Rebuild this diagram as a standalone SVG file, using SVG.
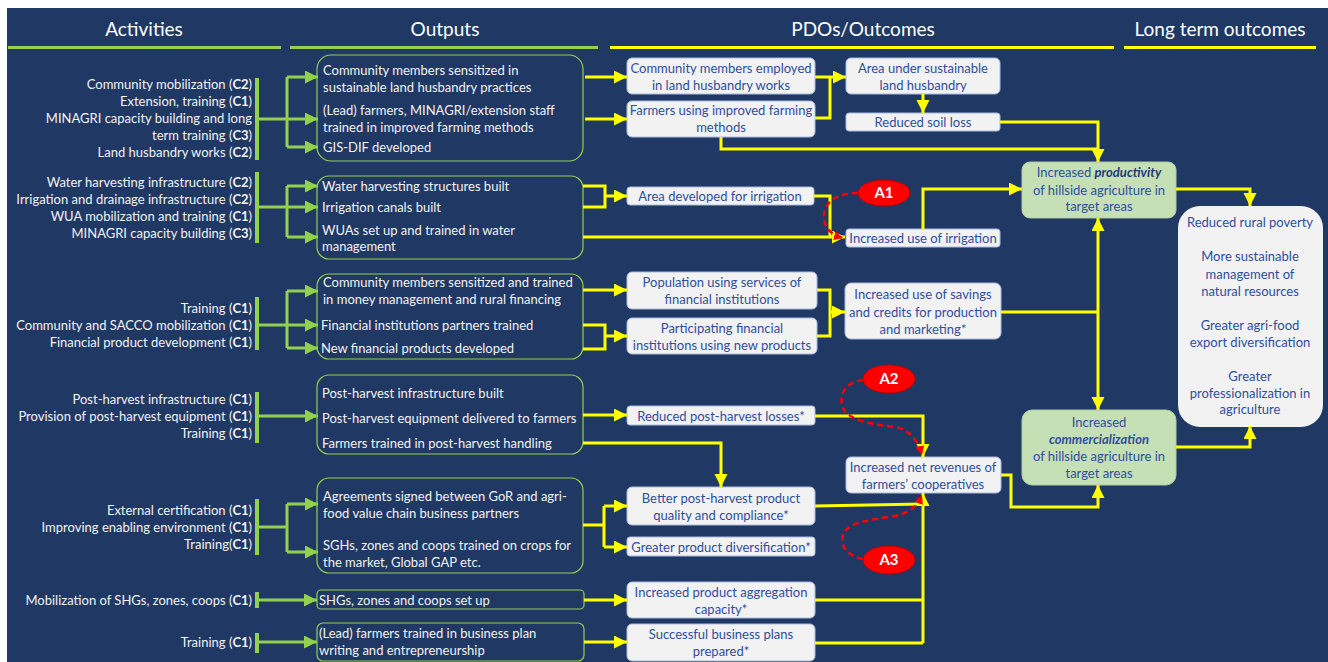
<svg xmlns="http://www.w3.org/2000/svg" width="1328" height="662" viewBox="0 0 1328 662">
<defs>
<style>
.hdr{font-family:Lato,"Open Sans",sans-serif;font-size:19px;fill:#FFFFFF;text-anchor:middle}
.act{font-family:Lato,"Open Sans",sans-serif;font-size:13px;fill:#F2F2F2;text-anchor:end}
.out{font-family:Lato,"Open Sans",sans-serif;font-size:13px;fill:#F2F2F2}
.pdo{font-family:Lato,"Open Sans",sans-serif;font-size:13px;fill:#2E4E9E;text-anchor:middle}
.b{font-weight:bold}
.obox{fill:#203864;stroke:#92D050;stroke-width:1.2}
.pbox{fill:#F2F2F2;stroke:#A9BCE0;stroke-width:1}
.gbox{fill:#C5E0B4;stroke:#AFCB9E;stroke-width:1}
.bar{fill:#92D050}
.gl{fill:none;stroke:#92D050;stroke-width:3}
.ga{fill:none;stroke:#92D050;stroke-width:3;marker-end:url(#mg)}
.yl{fill:none;stroke:#FFFF00;stroke-width:3}
.ya{fill:none;stroke:#FFFF00;stroke-width:3;marker-end:url(#my)}
.rd{fill:none;stroke:#FF0000;stroke-width:2.5;stroke-dasharray:6 4;marker-end:url(#mr)}
.ell{fill:#FF0000;stroke:#C00000;stroke-width:1}
.et{font-family:Lato,"Open Sans",sans-serif;font-size:15px;font-weight:bold;fill:#FFFFFF;text-anchor:middle}
</style>
<marker id="mg" markerUnits="userSpaceOnUse" markerWidth="14" markerHeight="14" refX="13" refY="6.5" orient="auto"><path d="M0,0 L13,6.5 L0,13 z" fill="#92D050"/></marker>
<marker id="my" markerUnits="userSpaceOnUse" markerWidth="14" markerHeight="14" refX="13" refY="6.5" orient="auto"><path d="M0,0 L13,6.5 L0,13 z" fill="#FFFF00"/></marker>
<marker id="mr" markerUnits="userSpaceOnUse" markerWidth="10" markerHeight="10" refX="9" refY="4.5" orient="auto"><path d="M0,0 L9,4.5 L0,9 z" fill="#FF0000"/></marker>
</defs>
<rect x="7" y="8" width="1321" height="654" fill="#203864"/>
<g id="header">
<text class="hdr" x="144" y="36">Activities</text>
<text class="hdr" x="445" y="36">Outputs</text>
<text class="hdr" x="863" y="36">PDOs/Outcomes</text>
<text class="hdr" x="1220" y="36">Long term outcomes</text>
<rect x="8" y="46" width="273" height="3" fill="#92D050"/>
<rect x="290" y="46" width="308" height="3" fill="#92D050"/>
<rect x="610" y="46" width="504" height="3" fill="#FFFF00"/>
<rect x="1124" y="46" width="192" height="3" fill="#FFFF00"/>
</g>
<g id="activities">
<text class="act" x="252" y="89">Community mobilization (<tspan class="b">C2</tspan>)</text>
<text class="act" x="252" y="106">Extension, training (<tspan class="b">C1</tspan>)</text>
<text class="act" x="252" y="123">MINAGRI capacity building and long</text>
<text class="act" x="252" y="140">term training (<tspan class="b">C3</tspan>)</text>
<text class="act" x="252" y="157">Land husbandry works (<tspan class="b">C2</tspan>)</text>
<text class="act" x="252" y="187">Water harvesting infrastructure (<tspan class="b">C2</tspan>)</text>
<text class="act" x="252" y="204">Irrigation and drainage infrastructure (<tspan class="b">C2</tspan>)</text>
<text class="act" x="252" y="221">WUA mobilization and training (<tspan class="b">C1</tspan>)</text>
<text class="act" x="252" y="238">MINAGRI capacity building (<tspan class="b">C3</tspan>)</text>
<text class="act" x="252" y="313">Training (<tspan class="b">C1</tspan>)</text>
<text class="act" x="252" y="330">Community and SACCO mobilization (<tspan class="b">C1</tspan>)</text>
<text class="act" x="252" y="347">Financial product development (<tspan class="b">C1</tspan>)</text>
<text class="act" x="252" y="404">Post-harvest infrastructure (<tspan class="b">C1</tspan>)</text>
<text class="act" x="252" y="421">Provision of post-harvest equipment (<tspan class="b">C1</tspan>)</text>
<text class="act" x="252" y="438">Training (<tspan class="b">C1</tspan>)</text>
<text class="act" x="252" y="515">External certification (<tspan class="b">C1</tspan>)</text>
<text class="act" x="252" y="532">Improving enabling environment (<tspan class="b">C1</tspan>)</text>
<text class="act" x="252" y="549">Training(<tspan class="b">C1</tspan>)</text>
<text class="act" x="252" y="605">Mobilization of SHGs, zones, coops (<tspan class="b">C1</tspan>)</text>
<text class="act" x="252" y="647">Training (<tspan class="b">C1</tspan>)</text>
<rect class="bar" x="255" y="78" width="4" height="82"/>
<rect class="bar" x="255" y="172" width="4" height="71"/>
<rect class="bar" x="255" y="297" width="4" height="53"/>
<rect class="bar" x="255" y="392" width="4" height="51"/>
<rect class="bar" x="255" y="499" width="4" height="56"/>
<rect class="bar" x="255" y="592" width="4" height="16"/>
<rect class="bar" x="255" y="633" width="4" height="20"/>
</g>
<g id="out1">
<rect class="obox" x="317" y="55" width="266" height="106" rx="14"/>
<text class="out" x="323" y="75">Community members sensitized in</text>
<text class="out" x="323" y="92">sustainable land husbandry practices</text>
<text class="out" x="323" y="115">(Lead) farmers, MINAGRI/extension staff</text>
<text class="out" x="323" y="132">trained in improved farming methods</text>
<text class="out" x="323" y="152">GIS-DIF developed</text>
</g>
<g id="out2">
<rect class="obox" x="317" y="176" width="266" height="83" rx="12"/>
<text class="out" x="322" y="191">Water harvesting structures built</text>
<text class="out" x="322" y="212">Irrigation canals built</text>
<text class="out" x="322" y="235">WUAs set up and trained in water</text>
<text class="out" x="322" y="251">management</text>
</g>
<g id="out3">
<rect class="obox" x="317" y="274" width="266" height="85" rx="12"/>
<text class="out" x="323" y="287">Community members sensitized and trained</text>
<text class="out" x="323" y="304">in money management and rural financing</text>
<text class="out" x="321" y="330">Financial institutions partners trained</text>
<text class="out" x="321" y="353">New financial products developed</text>
</g>
<g id="out4">
<rect class="obox" x="317" y="375" width="266" height="79" rx="12"/>
<text class="out" x="322" y="398">Post-harvest infrastructure built</text>
<text class="out" x="322" y="423">Post-harvest equipment delivered to farmers</text>
<text class="out" x="322" y="448">Farmers trained in post-harvest handling</text>
</g>
<g id="out5">
<rect class="obox" x="317" y="478" width="266" height="95" rx="12"/>
<text class="out" x="323" y="501">Agreements signed between GoR and agri-</text>
<text class="out" x="323" y="518">food value chain business partners</text>
<text class="out" x="323" y="550">SGHs, zones and coops trained on crops for</text>
<text class="out" x="323" y="567">the market, Global GAP etc.</text>
</g>
<g id="out6">
<rect class="obox" x="317" y="590" width="267" height="19" rx="4"/>
<text class="out" x="319" y="605">SHGs, zones and coops set up</text>
</g>
<g id="out7">
<rect class="obox" x="317" y="623" width="267" height="38" rx="6"/>
<text class="out" x="319" y="638">(Lead) farmers trained in business plan</text>
<text class="out" x="319" y="655">writing and entrepreneurship</text>
</g>
<g id="p1"><rect class="pbox" x="627" y="58" width="188" height="36" rx="5"/>
<text class="pdo" x="721" y="73">Community members employed</text><text class="pdo" x="721" y="90">in land husbandry works</text></g>
<g id="p2"><rect class="pbox" x="627" y="101" width="188" height="36" rx="5"/>
<text class="pdo" x="721" y="115">Farmers using improved farming</text><text class="pdo" x="721" y="132">methods</text></g>
<g id="p3"><rect class="pbox" x="846" y="58" width="154" height="36" rx="5"/>
<text class="pdo" x="923" y="73">Area under sustainable</text><text class="pdo" x="923" y="90">land husbandry</text></g>
<g id="p4"><rect class="pbox" x="846" y="113" width="154" height="18" rx="3"/>
<text class="pdo" x="923" y="127">Reduced soil loss</text></g>
<g id="p5"><rect class="pbox" x="627" y="187" width="187" height="18" rx="3"/>
<text class="pdo" x="720" y="201">Area developed for irrigation</text></g>
<g id="p6"><rect class="pbox" x="846" y="229" width="154" height="18" rx="3"/>
<text class="pdo" x="923" y="243">Increased use of irrigation</text></g>
<g id="p7"><rect class="pbox" x="627" y="272" width="190" height="37" rx="5"/>
<text class="pdo" x="722" y="287">Population using services of</text><text class="pdo" x="722" y="304">financial institutions</text></g>
<g id="p8"><rect class="pbox" x="627" y="318" width="190" height="36" rx="5"/>
<text class="pdo" x="722" y="333">Participating financial</text><text class="pdo" x="722" y="350">institutions using new products</text></g>
<g id="p9"><rect class="pbox" x="845" y="283" width="156" height="56" rx="6"/>
<text class="pdo" x="923" y="299">Increased use of savings</text><text class="pdo" x="923" y="317">and credits for production</text><text class="pdo" x="923" y="334">and marketing*</text></g>
<g id="p10"><rect class="pbox" x="627" y="406" width="188" height="19" rx="3"/>
<text class="pdo" x="721" y="421">Reduced post-harvest losses*</text></g>
<g id="p11"><rect class="pbox" x="627" y="487" width="188" height="38" rx="5"/>
<text class="pdo" x="721" y="503">Better post-harvest product</text><text class="pdo" x="721" y="520">quality and compliance*</text></g>
<g id="p12"><rect class="pbox" x="627" y="537" width="188" height="19" rx="3"/>
<text class="pdo" x="721" y="552">Greater product diversification*</text></g>
<g id="p13"><rect class="pbox" x="627" y="582" width="188" height="36" rx="5"/>
<text class="pdo" x="721" y="597">Increased product aggregation</text><text class="pdo" x="721" y="614">capacity*</text></g>
<g id="p14"><rect class="pbox" x="627" y="624" width="188" height="37" rx="5"/>
<text class="pdo" x="721" y="639">Successful business plans</text><text class="pdo" x="721" y="656">prepared*</text></g>
<g id="p15"><rect class="pbox" x="846" y="457" width="155" height="36" rx="5"/>
<text class="pdo" x="923" y="472">Increased net revenues of</text><text class="pdo" x="923" y="489">farmers’ cooperatives</text></g>
<g id="g1"><rect class="gbox" x="1022" y="162" width="154" height="56" rx="8"/>
<text class="pdo" x="1099" y="177">Increased <tspan class="b" font-style="italic" fill="#1F3A7A">productivity</tspan></text>
<text class="pdo" x="1099" y="195">of hillside agriculture in</text><text class="pdo" x="1099" y="211">target areas</text></g>
<g id="g2"><rect class="gbox" x="1022" y="410" width="154" height="75" rx="10"/>
<text class="pdo" x="1099" y="427">Increased</text>
<text class="pdo b" x="1099" y="444" font-style="italic" fill="#1F3A7A">commercialization</text>
<text class="pdo" x="1099" y="461">of hillside agriculture in</text><text class="pdo" x="1099" y="478">target areas</text></g>
<g id="longterm"><rect x="1178" y="206" width="145" height="221" rx="22" fill="#F2F2F2"/>
<text class="pdo" x="1250" y="227">Reduced rural poverty</text>
<text class="pdo" x="1250" y="261">More sustainable</text><text class="pdo" x="1250" y="279">management of</text><text class="pdo" x="1250" y="296">natural resources</text>
<text class="pdo" x="1250" y="330">Greater agri-food</text><text class="pdo" x="1250" y="347">export diversification</text>
<text class="pdo" x="1250" y="381">Greater</text><text class="pdo" x="1250" y="398">professionalization in</text><text class="pdo" x="1250" y="414">agriculture</text></g>
<g id="connectors">
<path class="gl" d="M259,119 H287 M287,77 V147"/>
<path class="ga" d="M287,77 H318"/><path class="ga" d="M287,119 H318"/><path class="ga" d="M287,147 H318"/>
<path class="gl" d="M259,207 H287 M287,186 V237"/>
<path class="ga" d="M287,186 H318"/><path class="ga" d="M287,207 H318"/><path class="ga" d="M287,237 H318"/>
<path class="gl" d="M259,325 H287 M287,291 V348"/>
<path class="ga" d="M287,291 H318"/><path class="ga" d="M287,325 H318"/><path class="ga" d="M287,348 H318"/>
<path class="ga" d="M259,416 H318"/>
<path class="gl" d="M259,527 H287 M287,504 V552"/>
<path class="ga" d="M287,504 H318"/><path class="ga" d="M287,552 H318"/>
<path class="ga" d="M259,600 H317"/>
<path class="ga" d="M259,642 H317"/>
<path class="ya" d="M585,77 H627"/>
<path class="ya" d="M585,119 H627"/>
<path class="yl" d="M815,77 H830 M815,118 H830 V77"/>
<path class="ya" d="M830,77 H846"/>
<path class="ya" d="M923,94 V113"/>
<path class="yl" d="M721,137 V149 H1098"/>
<path class="ya" d="M1000,122 H1098 V162"/>
<path class="yl" d="M583,186 H605 V207 H583"/>
<path class="ya" d="M605,196 H627"/>
<path class="ya" d="M583,237 H845"/>
<path class="yl" d="M814,196 H830 V237"/>
<path class="ya" d="M923,229 V189 H1022"/>
<path class="ya" d="M583,290 H627"/>
<path class="yl" d="M583,325 H605 V349 H583"/>
<path class="ya" d="M605,336 H627"/>
<path class="yl" d="M817,290 H830 V336 H817"/>
<path class="ya" d="M830,312 H845"/>
<path class="yl" d="M1001,312 H1098"/>
<path class="ya" d="M1098,312 V218"/>
<path class="ya" d="M1098,312 V410"/>
<path class="ya" d="M1176,189 H1250 V206"/>
<path class="ya" d="M1176,447 H1250 V426"/>
<path class="ya" d="M1001,475 H1011 V507 H1098 V485"/>
<path class="ya" d="M583,415 H627"/>
<path class="ya" d="M815,416 H923 V457"/>
<path class="ya" d="M583,443 H721 V487"/>
<path class="yl" d="M583,525 H604 M604,506 V547"/>
<path class="ya" d="M604,506 H627"/><path class="ya" d="M604,547 H627"/>
<path class="yl" d="M815,506 L923,504"/>
<path class="ya" d="M923,643 V493"/>
<path class="yl" d="M815,600 H923 M815,643 H923"/>
<path class="ya" d="M584,600 H627"/>
<path class="ya" d="M584,642 H627"/>
<path class="rd" d="M858,193 C840,193 825,200 824,215 C823,228 832,235 843,238"/>
<path class="rd" d="M863,380 C845,382 838,395 843,408 C848,420 870,424 895,427 C910,430 918,440 922,455"/>
<path class="rd" d="M863,559 C848,556 840,547 843,535 C847,522 870,520 895,516 C910,513 918,505 922,495"/>
</g>
<g id="a1"><ellipse class="ell" cx="884" cy="193" rx="26" ry="13"/><text class="et" x="884" y="198">A1</text></g>
<g id="a2"><ellipse class="ell" cx="889" cy="379" rx="26" ry="14"/><text class="et" x="889" y="384">A2</text></g>
<g id="a3"><ellipse class="ell" cx="889" cy="560" rx="26" ry="14"/><text class="et" x="889" y="565">A3</text></g>
</svg>
